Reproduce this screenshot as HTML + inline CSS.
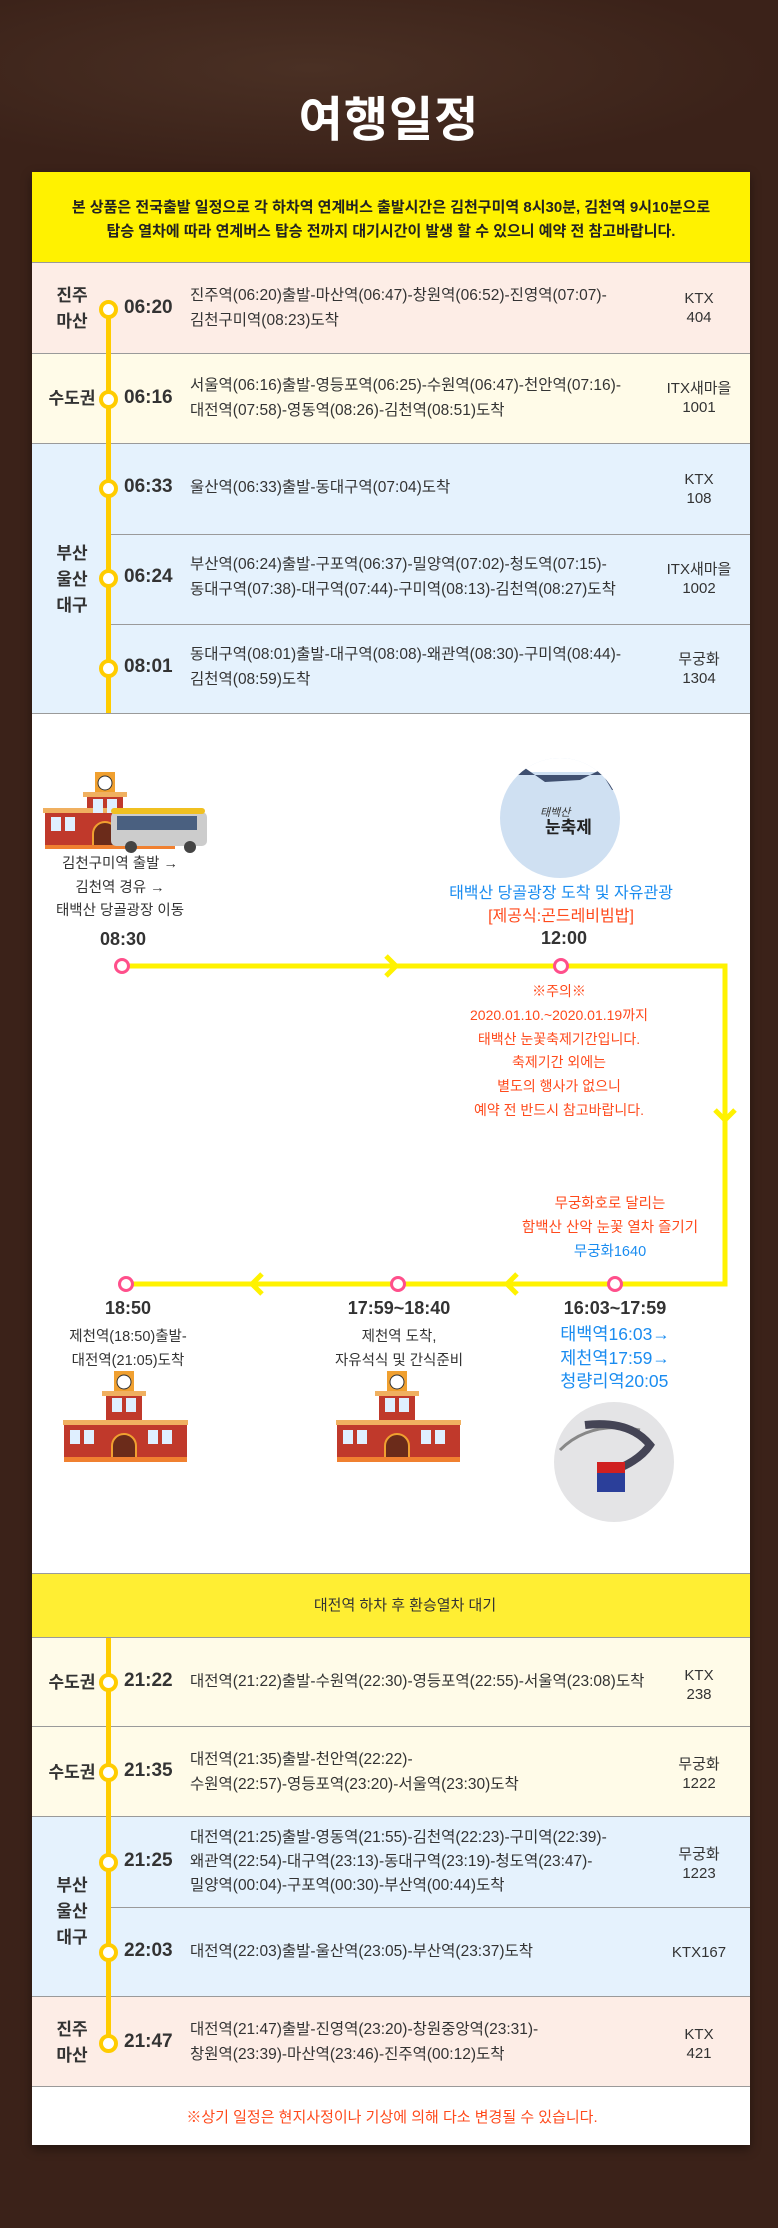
<!DOCTYPE html>
<html><head><meta charset="utf-8"><style>
*{margin:0;padding:0;box-sizing:border-box}
body{width:778px;height:2228px;background:#3b2219;position:relative;overflow:hidden;font-family:"Liberation Sans","Noto Sans CJK KR",sans-serif;color:#333}
.a{position:absolute}
.c{position:absolute;text-align:center;white-space:nowrap;transform:translateX(-50%)}
.row{position:absolute;left:32px;width:718px;border-bottom:1px solid #9a9a9a}
.lbl{position:absolute;font-weight:bold;font-size:17px;line-height:26px;text-align:center;width:70px;left:72px;transform:translateX(-50%);color:#333}
.tm{position:absolute;left:124px;font-weight:bold;font-size:19px;color:#333}
.tx{position:absolute;left:190px;font-size:15.5px;line-height:25px;color:#333;white-space:nowrap}
.tr{position:absolute;left:699px;transform:translateX(-50%);font-size:15px;line-height:19px;text-align:center;white-space:nowrap;color:#333}
.dot{position:absolute;width:19px;height:19px;border-radius:50%;background:#fff;border:4px solid #ffcc00;left:98.5px}
.pk{position:absolute;width:16px;height:16px;border-radius:50%;background:#fff;border:3.5px solid #ff4f8b}
</style></head><body>
<div class="a" style="left:0;top:0;width:778px;height:170px;background:radial-gradient(ellipse at 40% 40%,#4a3024,#3b2219 70%)"></div>
<div class="c" style="left:389px;top:80px;font-size:48px;font-weight:bold;color:#fff;letter-spacing:1px">여행일정</div>

<div class="a" style="left:32px;top:172px;width:718px;height:1973px;background:#fff;box-shadow:0 4px 10px rgba(0,0,0,.4)"></div>
<div class="a" style="left:32px;top:172px;width:718px;height:91px;background:#fff200;border-bottom:1px solid #9a9a9a"></div>
<div class="c" style="left:391px;top:196px;font-size:15px;font-weight:bold;line-height:23.5px;color:#222">본 상품은 전국출발 일정으로 각 하차역 연계버스 출발시간은 김천구미역 8시30분, 김천역 9시10분으로<br>탑승 열차에 따라 연계버스 탑승 전까지 대기시간이 발생 할 수 있으니 예약 전 참고바랍니다.</div>

<div class="row" style="top:263px;height:91px;background:#fdede6"></div>
<div class="row" style="top:354px;height:90px;background:#fffbe8"></div>
<div class="a" style="left:32px;top:444px;width:718px;height:270px;background:#e5f2fd;border-bottom:1px solid #9a9a9a"></div>
<div class="a" style="left:110px;top:534px;width:640px;height:1px;background:#9a9a9a"></div>
<div class="a" style="left:110px;top:624px;width:640px;height:1px;background:#9a9a9a"></div>
<div class="a" style="left:105.5px;top:309px;width:5px;height:404px;background:#ffcc00"></div>

<div class="lbl" style="top:283px">진주<br>마산</div>
<div class="lbl" style="top:386px">수도권</div>
<div class="lbl" style="top:541px">부산<br>울산<br>대구</div>

<div class="dot" style="top:299.5px"></div><div class="tm" style="top:297px">06:20</div>
<div class="tx" style="top:283px">진주역(06:20)출발-마산역(06:47)-창원역(06:52)-진영역(07:07)-<br>김천구미역(08:23)도착</div>
<div class="tr" style="top:289px">KTX<br>404</div>

<div class="dot" style="top:389.5px"></div><div class="tm" style="top:387px">06:16</div>
<div class="tx" style="top:373px">서울역(06:16)출발-영등포역(06:25)-수원역(06:47)-천안역(07:16)-<br>대전역(07:58)-영동역(08:26)-김천역(08:51)도착</div>
<div class="tr" style="top:379px">ITX새마을<br>1001</div>

<div class="dot" style="top:478.5px"></div><div class="tm" style="top:476px">06:33</div>
<div class="tx" style="top:475px">울산역(06:33)출발-동대구역(07:04)도착</div>
<div class="tr" style="top:470px">KTX<br>108</div>

<div class="dot" style="top:568.5px"></div><div class="tm" style="top:566px">06:24</div>
<div class="tx" style="top:552px">부산역(06:24)출발-구포역(06:37)-밀양역(07:02)-청도역(07:15)-<br>동대구역(07:38)-대구역(07:44)-구미역(08:13)-김천역(08:27)도착</div>
<div class="tr" style="top:560px">ITX새마을<br>1002</div>

<div class="dot" style="top:658.5px"></div><div class="tm" style="top:656px">08:01</div>
<div class="tx" style="top:642px">동대구역(08:01)출발-대구역(08:08)-왜관역(08:30)-구미역(08:44)-<br>김천역(08:59)도착</div>
<div class="tr" style="top:650px">무궁화<br>1304</div>

<!-- middle -->
<svg class="a" style="left:0;top:0" width="778" height="1600">
<polyline points="122,966 725,966 725,1284 126,1284" fill="none" stroke="#fff200" stroke-width="5"/>
<polyline points="386,956 396,966 386,976" fill="none" stroke="#fff200" stroke-width="5"/>
<polyline points="715,1110 725,1120 735,1110" fill="none" stroke="#fff200" stroke-width="5"/>
<polyline points="517,1274 507,1284 517,1294" fill="none" stroke="#fff200" stroke-width="5"/>
<polyline points="262,1274 252,1284 262,1294" fill="none" stroke="#fff200" stroke-width="5"/>
<!-- station+bus -->
<g transform="translate(45,772)">
<rect x="42" y="22" width="36" height="55" fill="#c0392b"/><rect x="38" y="20" width="44" height="5" fill="#f0b060"/>
<rect x="50" y="0" width="20" height="20" fill="#f0a030"/><circle cx="60" cy="11" r="7" fill="#fff" stroke="#333"/>
<rect x="0" y="40" width="120" height="35" fill="#c0392b"/><rect x="-2" y="36" width="124" height="5" fill="#f0b060"/>
<rect x="6" y="45" width="10" height="14" fill="#dfefff"/><rect x="20" y="45" width="10" height="14" fill="#dfefff"/><rect x="48" y="27" width="10" height="14" fill="#dfefff"/><rect x="62" y="27" width="10" height="14" fill="#dfefff"/>
<path d="M48,75 V62 a12,12 0 0 1 24,0 V75z" fill="#6b2b1a" stroke="#f0a030" stroke-width="2"/>
<rect x="0" y="73" width="130" height="4" fill="#f08030"/>
<rect x="66" y="40" width="96" height="34" rx="5" fill="#ccc"/><rect x="66" y="36" width="94" height="6" rx="3" fill="#f0c020"/>
<rect x="72" y="44" width="80" height="14" fill="#4a6080"/><circle cx="86" cy="75" r="6" fill="#444"/><circle cx="145" cy="75" r="6" fill="#444"/>
</g>
<!-- festival -->
<defs><clipPath id="cp1"><circle cx="560" cy="818" r="60"/></clipPath><clipPath id="cp2"><circle cx="614" cy="1462" r="60"/></clipPath></defs>
<g clip-path="url(#cp1)"><rect x="500" y="758" width="120" height="120" fill="#cfe0f2"/><rect x="500" y="758" width="120" height="14" fill="#fff"/><path d="M510,775 L525,768 L545,782 L580,780 L600,770 L612,790 L620,790 V775z" fill="#405070"/></g>
<text x="540" y="816" font-size="11" font-style="italic" fill="#333" font-family="Noto Sans CJK KR">태백산</text>
<text x="545" y="833" font-size="17" font-weight="bold" fill="#222" font-family="Noto Sans CJK KR">눈축제</text>
<g clip-path="url(#cp2)"><rect x="554" y="1402" width="120" height="120" fill="#e4e4e6"/><path d="M560,1450 Q590,1420 640,1430" stroke="#888" stroke-width="3" fill="none"/><path d="M585,1425 Q630,1420 650,1445 Q640,1460 615,1470" stroke="#445" stroke-width="8" fill="none"/><rect x="597" y="1462" width="28" height="30" fill="#2b3f9a"/><rect x="597" y="1462" width="28" height="11" fill="#d02020"/></g>
<!-- stations -->
<g id="st">
<rect x="106" y="1393" width="36" height="68" fill="#c0392b"/><rect x="102" y="1391" width="44" height="5" fill="#f0b060"/>
<rect x="114" y="1371" width="20" height="20" fill="#f0a030"/><circle cx="124" cy="1382" r="7" fill="#fff" stroke="#333"/>
<rect x="64" y="1424" width="123" height="35" fill="#c0392b"/><rect x="63" y="1420" width="125" height="5" fill="#f0b060"/>
<rect x="70" y="1430" width="10" height="14" fill="#dfefff"/><rect x="84" y="1430" width="10" height="14" fill="#dfefff"/><rect x="148" y="1430" width="10" height="14" fill="#dfefff"/><rect x="162" y="1430" width="10" height="14" fill="#dfefff"/><rect x="112" y="1398" width="10" height="14" fill="#dfefff"/><rect x="126" y="1398" width="10" height="14" fill="#dfefff"/>
<path d="M112,1460 V1446 a12,12 0 0 1 24,0 V1460z" fill="#6b2b1a" stroke="#f0a030" stroke-width="2"/>
<rect x="64" y="1457" width="123" height="5" fill="#f08030"/>
</g>
<use href="#st" x="273" y="0"/>
</svg>
<div class="pk" style="left:114px;top:958px"></div>
<div class="pk" style="left:553px;top:958px"></div>
<div class="pk" style="left:607px;top:1276px"></div>
<div class="pk" style="left:390px;top:1276px"></div>
<div class="pk" style="left:118px;top:1276px"></div>

<div class="c" style="left:120px;top:853px;font-size:14.5px;line-height:23.5px">김천구미역 출발 →<br>김천역 경유 →<br>태백산 당골광장 이동</div>
<div class="c" style="left:123px;top:929px;font-size:18px;font-weight:bold">08:30</div>
<div class="c" style="left:561px;top:879px;font-size:16px;color:#1a8cf0">태백산 당골광장 도착 및 자유관광</div>
<div class="c" style="left:561px;top:902px;font-size:16px;color:#ff4a1c">[제공식:곤드레비빔밥]</div>
<div class="c" style="left:564px;top:928px;font-size:18px;font-weight:bold">12:00</div>
<div class="c" style="left:559px;top:980px;font-size:14px;line-height:23.8px;color:#ff4a1c">※주의※<br>2020.01.10.~2020.01.19까지<br>태백산 눈꽃축제기간입니다.<br>축제기간 외에는<br>별도의 행사가 없으니<br>예약 전 반드시 참고바랍니다.</div>
<div class="c" style="left:610px;top:1192px;font-size:14.5px;line-height:24px;color:#ff4a1c">무궁화호로 달리는<br>함백산 산악 눈꽃 열차 즐기기<br><span style="color:#1a8cf0">무궁화1640</span></div>
<div class="c" style="left:128px;top:1298px;font-size:18px;font-weight:bold">18:50</div>
<div class="c" style="left:128px;top:1325px;font-size:14.5px;line-height:24px">제천역(18:50)출발-<br>대전역(21:05)도착</div>
<div class="c" style="left:399px;top:1298px;font-size:18px;font-weight:bold">17:59~18:40</div>
<div class="c" style="left:399px;top:1325px;font-size:14.5px;line-height:24px">제천역 도착,<br>자유석식 및 간식준비</div>
<div class="c" style="left:615px;top:1298px;font-size:18px;font-weight:bold">16:03~17:59</div>
<div class="c" style="left:615px;top:1323px;font-size:17.5px;line-height:23.5px;color:#1a8cf0;text-align:left">태백역16:03→<br>제천역17:59→<br>청량리역20:05</div>

<!-- bottom -->
<div class="a" style="left:32px;top:1573px;width:718px;height:65px;background:#ffee33;border-top:1px solid #9a9a9a;border-bottom:1px solid #9a9a9a"></div>
<div class="c" style="left:405px;top:1594px;font-size:15px">대전역 하차 후 환승열차 대기</div>
<div class="row" style="top:1638px;height:89px;background:#fffbe8"></div>
<div class="row" style="top:1727px;height:90px;background:#fffbe8"></div>
<div class="a" style="left:32px;top:1817px;width:718px;height:180px;background:#e5f2fd;border-bottom:1px solid #9a9a9a"></div>
<div class="a" style="left:110px;top:1907px;width:640px;height:1px;background:#9a9a9a"></div>
<div class="row" style="top:1997px;height:90px;background:#fdede6"></div>
<div class="a" style="left:105.5px;top:1638px;width:5px;height:405px;background:#ffcc00"></div>

<div class="lbl" style="top:1670px">수도권</div>
<div class="lbl" style="top:1760px">수도권</div>
<div class="lbl" style="top:1873px">부산<br>울산<br>대구</div>
<div class="lbl" style="top:2017px">진주<br>마산</div>

<div class="dot" style="top:1672.5px"></div><div class="tm" style="top:1670px">21:22</div>
<div class="tx" style="top:1669px">대전역(21:22)출발-수원역(22:30)-영등포역(22:55)-서울역(23:08)도착</div>
<div class="tr" style="top:1666px">KTX<br>238</div>

<div class="dot" style="top:1762.5px"></div><div class="tm" style="top:1760px">21:35</div>
<div class="tx" style="top:1747px">대전역(21:35)출발-천안역(22:22)-<br>수원역(22:57)-영등포역(23:20)-서울역(23:30)도착</div>
<div class="tr" style="top:1755px">무궁화<br>1222</div>

<div class="dot" style="top:1852.5px"></div><div class="tm" style="top:1850px">21:25</div>
<div class="tx" style="top:1826px;line-height:24px">대전역(21:25)출발-영동역(21:55)-김천역(22:23)-구미역(22:39)-<br>왜관역(22:54)-대구역(23:13)-동대구역(23:19)-청도역(23:47)-<br>밀양역(00:04)-구포역(00:30)-부산역(00:44)도착</div>
<div class="tr" style="top:1845px">무궁화<br>1223</div>

<div class="dot" style="top:1942.5px"></div><div class="tm" style="top:1940px">22:03</div>
<div class="tx" style="top:1939px">대전역(22:03)출발-울산역(23:05)-부산역(23:37)도착</div>
<div class="tr" style="top:1943px">KTX167</div>

<div class="dot" style="top:2033.5px"></div><div class="tm" style="top:2031px">21:47</div>
<div class="tx" style="top:2017px">대전역(21:47)출발-진영역(23:20)-창원중앙역(23:31)-<br>창원역(23:39)-마산역(23:46)-진주역(00:12)도착</div>
<div class="tr" style="top:2025px">KTX<br>421</div>

<div class="c" style="left:392px;top:2106px;font-size:15px;color:#ff4a1c">※상기 일정은 현지사정이나 기상에 의해 다소 변경될 수 있습니다.</div>
</body></html>
